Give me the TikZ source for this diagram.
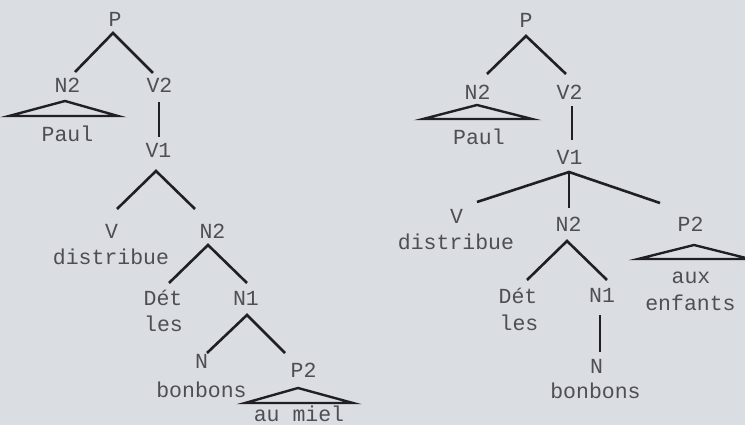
\documentclass[tikz,border=0pt]{standalone}
\usepackage{fontspec}
\newfontfamily\treefont{Liberation Mono}
\definecolor{paper}{RGB}{218,221,226}
\definecolor{ink}{RGB}{32,32,36}
\definecolor{label}{RGB}{78,78,84}
\begin{document}
\begin{tikzpicture}[x=1pt,y=-1pt,
  lab/.style={anchor=base,inner sep=0pt,text=label,font=\treefont\fontsize{21.5}{23}\selectfont},
  branch/.style={draw=ink,line width=2.6pt},
  roof/.style={draw=ink,line width=2.4pt,line join=miter}]
\fill[paper] (0,0) rectangle (745,425);
\useasboundingbox (0,0) rectangle (745,425);

% ---------- left tree ----------
\node[lab] (lP)   at (115,27)  {P};
\node[lab] (lN2)  at (67.5,93) {N2};
\node[lab] (lV2)  at (159.5,93){V2};
\node[lab] (lPaul) at (67.5,142) {Paul};
\node[lab] (lV1)  at (158.5,158) {V1};
\node[lab] (lV)   at (111.5,238) {V};
\node[lab] (ldis) at (111,265) {distribue};
\node[lab] (lNN2) at (212.5,238) {N2};
\node[lab] (lDet) at (163,305) {Dét};
\node[lab] (lles) at (163.5,331) {les};
\node[lab] (lN1)  at (246,305) {N1};
\node[lab] (lN)   at (201.5,368) {N};
\node[lab] (lbon) at (201.5,397) {bonbons};
\node[lab] (lP2)  at (303.5,377) {P2};
\node[lab] (lmiel) at (299,421) {au miel};

\coordinate (lPa) at (113,33);
\coordinate (lPl) at (75,72);
\coordinate (lPr) at (153,73);
\draw[branch] (lPl) -- (lPa) -- (lPr);
\coordinate (lNa) at (65,101);
\coordinate (lNl) at (9,116);
\coordinate (lNr) at (118,116);
\draw[roof] (lNl) -- (lNa) -- (lNr) -- cycle;
\coordinate (lV2b) at (159,102);
\coordinate (lV1t) at (159,137);
\draw[branch] (lV2b) -- (lV1t);
\coordinate (lV1a) at (156,171);
\coordinate (lV1l) at (117,209);
\coordinate (lV1r) at (195,209);
\draw[branch] (lV1l) -- (lV1a) -- (lV1r);
\coordinate (lN2a) at (208,245);
\coordinate (lN2l) at (169,283);
\coordinate (lN2r) at (247,283);
\draw[branch] (lN2l) -- (lN2a) -- (lN2r);
\coordinate (lN1a) at (247,315);
\coordinate (lN1l) at (207,353);
\coordinate (lN1r) at (285,353);
\draw[branch] (lN1l) -- (lN1a) -- (lN1r);
\coordinate (lP2a) at (298,388);
\coordinate (lP2l) at (245,403);
\coordinate (lP2r) at (353,403);
\draw[roof] (lP2l) -- (lP2a) -- (lP2r) -- cycle;

% ---------- right tree ----------
\node[lab] (rP)   at (526,28)  {P};
\node[lab] (rN2)  at (477.5,100) {N2};
\node[lab] (rV2)  at (569.5,100) {V2};
\node[lab] (rPaul) at (479,145) {Paul};
\node[lab] (rV1)  at (569.5,165) {V1};
\node[lab] (rV)   at (456.5,223) {V};
\node[lab] (rdis) at (456,250) {distribue};
\node[lab] (rNN2) at (568.5,232) {N2};
\node[lab] (rP2)  at (690.5,232) {P2};
\node[lab] (raux) at (691,283) {aux};
\node[lab] (renf) at (690.5,310) {enfants};
\node[lab] (rDet) at (518,303) {Dét};
\node[lab] (rles) at (519,330) {les};
\node[lab] (rN1)  at (602,302) {N1};
\node[lab] (rN)   at (596.5,373) {N};
\node[lab] (rbon) at (595.5,398) {bonbons};

\coordinate (rPa) at (526,36);
\coordinate (rPl) at (487,74);
\coordinate (rPr) at (566,74);
\draw[branch] (rPl) -- (rPa) -- (rPr);
\coordinate (rNa) at (477,105);
\coordinate (rNl) at (423,119);
\coordinate (rNr) at (532,119);
\draw[roof] (rNl) -- (rNa) -- (rNr) -- cycle;
\coordinate (rV2b) at (572,106);
\coordinate (rV1t) at (572,140);
\draw[branch] (rV2b) -- (rV1t);
\coordinate (rV1a) at (569,172);
\coordinate (rV1l) at (477,202);
\coordinate (rV1m) at (569,208);
\coordinate (rV1r) at (660,203);
\draw[branch] (rV1l) -- (rV1a) -- (rV1r);
\draw[branch] (rV1a) -- (rV1m);
\coordinate (rN2a) at (567,241);
\coordinate (rN2l) at (527,280);
\coordinate (rN2r) at (607,280);
\draw[branch] (rN2l) -- (rN2a) -- (rN2r);
\coordinate (rN1b) at (600,315);
\coordinate (rNt)  at (600,352);
\draw[branch] (rN1b) -- (rNt);
\coordinate (rP2a) at (694,245);
\coordinate (rP2l) at (638,259);
\coordinate (rP2r) at (750,259);
\draw[roof] (rP2l) -- (rP2a) -- (rP2r) -- cycle;
\end{tikzpicture}
\end{document}
